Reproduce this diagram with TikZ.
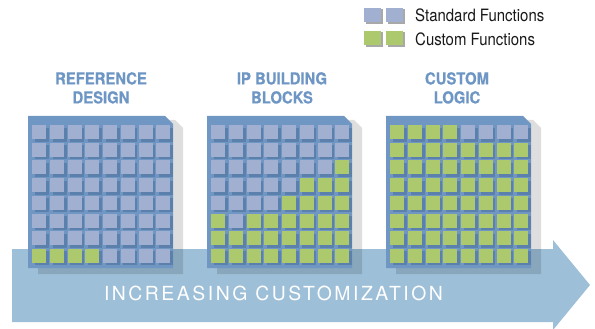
\documentclass[tikz,border=0pt]{standalone}
\usepackage{fontspec}
\usepackage{xcolor}
\usepackage{tikz}
\setmainfont{TeX Gyre Heros}
\newfontfamily\condfont[FakeStretch=0.88]{TeX Gyre Heros}
\newfontfamily\heavyfont[FakeStretch=0.9,FakeBold=0.6]{TeX Gyre Heros Bold}
\newfontfamily\widefont[LetterSpace=13]{TeX Gyre Heros}

\definecolor{boardblue}{RGB}{112,151,195}
\definecolor{cells}{RGB}{161,175,208}
\definecolor{cellc}{RGB}{172,201,110}
\definecolor{cellshade}{RGB}{92,128,172}
\definecolor{arrowblue}{RGB}{157,191,216}
\definecolor{titleblue}{RGB}{110,150,196}
\definecolor{keyshade}{RGB}{168,168,168}

% #1 = left edge of the board, #2 = rows of cells (s = standard, c = custom)
\newcommand{\drawchip}[2]{%
  \fill[black,opacity=0.13] (#1+10,120) -- (#1+147,120) -- (#1+155,128) -- (#1+155,274) -- (#1+10,274) -- cycle;
  \fill[boardblue] (#1,116) -- (#1+137,116) -- (#1+145,124) -- (#1+145,268) -- (#1,268) -- cycle;
  \foreach \row [count=\r from 0] in {#2} {
    \foreach \v [count=\c from 0] in \row {
      \fill[cellshade] (#1+6.8+17.7*\c,127.5+17.7*\r) rectangle ++(14,14);
      \fill[fill=cell\v] (#1+4.3+17.7*\c,125+17.7*\r) rectangle ++(14,14);
    }
  }
}

\begin{document}
\begin{tikzpicture}[x=1pt,y=1pt,yscale=-1,xscale=1,
  title/.style={text=titleblue,inner sep=0pt,anchor=north,align=center,
    font=\heavyfont\fontsize{16.5}{19}\selectfont},
  keytext/.style={anchor=base west,inner sep=0pt,text=black!90,
    font=\condfont\fontsize{17}{20}\selectfont}]
\useasboundingbox (0,0) rectangle (595,329);

% Arrow
\fill[arrowblue] (12,249) -- (553,249) -- (553,240) -- (590,285) -- (553,330) -- (553,322) -- (12,322) -- cycle;

% Chips
\drawchip{28}{{s,s,s,s,s,s,s,s},{s,s,s,s,s,s,s,s},{s,s,s,s,s,s,s,s},{s,s,s,s,s,s,s,s},
  {s,s,s,s,s,s,s,s},{s,s,s,s,s,s,s,s},{s,s,s,s,s,s,s,s},{c,c,c,c,s,s,s,s}}
\drawchip{207}{{s,s,s,s,s,s,s,s},{s,s,s,s,s,s,s,s},{s,s,s,s,s,s,s,c},{s,s,s,s,s,c,c,c},
  {s,s,s,s,c,c,c,c},{c,s,c,c,c,c,c,c},{c,c,c,c,c,c,c,c},{c,c,c,c,c,c,c,c}}
\drawchip{386}{{c,c,c,c,s,s,s,s},{c,c,c,c,c,c,c,c},{c,c,c,c,c,c,c,c},{c,c,c,c,c,c,c,c},
  {c,c,c,c,c,c,c,c},{c,c,c,c,c,c,c,c},{c,c,c,c,c,c,c,c},{c,c,c,c,c,c,c,c}}

% Legend
\foreach \kx in {364,386} {
  \fill[keyshade] (\kx+1.5,9.5) rectangle ++(17,14.5);
  \fill[fill=cells] (\kx,8) rectangle ++(17,14.5);
  \fill[keyshade] (\kx+1.5,32.5) rectangle ++(17,14.5);
  \fill[fill=cellc] (\kx,31) rectangle ++(17,14.5);
}

% Text Node
\node[keytext] (stdkey) at (415,22) {Standard Functions};
% Text Node
\node[keytext] (custkey) at (415,46) {Custom Functions};
% Text Node
\node[title] (refdesign) at (101,72) {REFERENCE\\DESIGN};
% Text Node
\node[title] (ipblocks) at (282,72) {IP BUILDING\\BLOCKS};
% Text Node
\node[title] (customlogic) at (457,72) {CUSTOM\\LOGIC};
% Text Node
\node[anchor=base,inner sep=0pt,text=white,font=\widefont\fontsize{19.4}{22}\selectfont] (increase) at (273.5,300) {INCREASING CUSTOMIZATION};
\end{tikzpicture}
\end{document}
